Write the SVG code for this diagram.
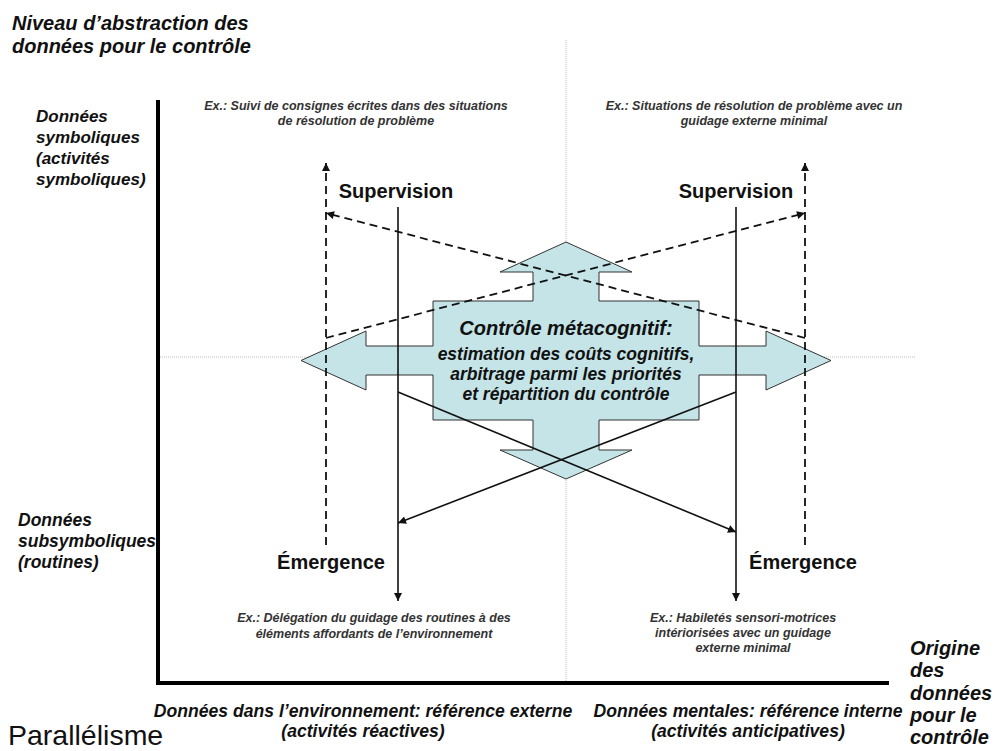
<svg xmlns="http://www.w3.org/2000/svg" width="997" height="751" viewBox="0 0 997 751">
<style>
  text { font-family: "Liberation Sans", Arial, sans-serif; }
  .bi { font-weight: bold; font-style: italic; fill: #111; }
  .ex { font-weight: bold; font-style: italic; fill: #333; font-size: 12.5px; text-anchor: middle; }
  .lbl { font-weight: bold; font-size: 20px; fill: #111; text-anchor: middle; }
  .dot { stroke: #bdbdbd; stroke-width: 1; stroke-dasharray: 1 1; fill: none; }
  .axis { stroke: #000; stroke-width: 4; fill: none; }
  .solid { stroke: #111; stroke-width: 1.6; fill: none; }
  .dash { stroke: #111; stroke-width: 1.8; stroke-dasharray: 8 5; fill: none; }
  .cross { fill: #c4e4e7; stroke: #333; stroke-width: 1; }
</style>
<defs>
  <marker id="arr" viewBox="0 0 10 10" refX="10" refY="5" markerUnits="userSpaceOnUse" markerWidth="9" markerHeight="8" orient="auto">
    <path d="M0,0 L10,5 L0,10 z" fill="#111"/>
  </marker>
</defs>

<g id="background-guides">
  <line class="dot" x1="566" y1="40" x2="566" y2="683"/>
  <line class="dot" x1="158" y1="357" x2="916" y2="357"/>
</g>

<g id="metacognitive-control">
  <polygon class="cross" points="566,242 632,272 599,272 599,301 699,301 699,346 766,346 766,331 831,360.5 766,390 766,375 699,375 699,420 599,420 599,450 632,450 566,479 500,450 533,450 533,420 433,420 433,375 366,375 366,390 301,360.5 366,331 366,346 433,346 433,301 533,301 533,272 500,272"/>
</g>

<g id="axes">
  <line class="axis" x1="158" y1="100" x2="158" y2="685"/>
  <line class="axis" x1="156" y1="683" x2="889" y2="683"/>
</g>

<g id="connectors">
  <line class="dash" x1="326" y1="545" x2="326" y2="163" marker-end="url(#arr)"/>
  <line class="dash" x1="805" y1="545" x2="805" y2="163" marker-end="url(#arr)"/>
  <line class="dash" x1="805" y1="338" x2="326" y2="213" marker-end="url(#arr)"/>
  <line class="dash" x1="326" y1="338" x2="805" y2="213" marker-end="url(#arr)"/>
  <line class="solid" x1="398" y1="207" x2="398" y2="601" marker-end="url(#arr)"/>
  <line class="solid" x1="736" y1="207" x2="736" y2="601" marker-end="url(#arr)"/>
  <line class="solid" x1="398" y1="392" x2="736" y2="532" marker-end="url(#arr)"/>
  <line class="solid" x1="736" y1="392" x2="398" y2="523" marker-end="url(#arr)"/>
</g>

<g id="control-text">
  <text class="bi" x="566" y="335" font-size="20" text-anchor="middle">Contrôle métacognitif:</text>
  <text class="bi" x="566" y="360" font-size="17.5" text-anchor="middle">estimation des coûts cognitifs,</text>
  <text class="bi" x="566" y="380" font-size="17.5" text-anchor="middle">arbitrage parmi les priorités</text>
  <text class="bi" x="566" y="400" font-size="17.5" text-anchor="middle">et répartition du contrôle</text>
</g>

<g id="y-axis-title">
  <text class="bi" x="12" y="30" font-size="20">Niveau d’abstraction des</text>
  <text class="bi" x="12" y="53" font-size="20">données pour le contrôle</text>
</g>

<g id="y-symbolic">
  <text class="bi" x="36" y="122" font-size="17">Données</text>
  <text class="bi" x="36" y="143" font-size="17">symboliques</text>
  <text class="bi" x="36" y="164" font-size="17">(activités</text>
  <text class="bi" x="36" y="185" font-size="17">symboliques)</text>
</g>

<g id="y-subsymbolic">
  <text class="bi" x="18" y="526" font-size="17.5">Données</text>
  <text class="bi" x="18" y="547" font-size="17.5">subsymboliques</text>
  <text class="bi" x="18" y="568" font-size="17.5">(routines)</text>
</g>

<g id="ex-top-left">
  <text class="ex" x="356" y="110">Ex.: Suivi de consignes écrites dans des situations</text>
  <text class="ex" x="356" y="125">de résolution de problème</text>
</g>
<g id="ex-top-right">
  <text class="ex" x="754" y="110">Ex.: Situations de résolution de problème avec un</text>
  <text class="ex" x="754" y="125">guidage externe minimal</text>
</g>
<g id="ex-bottom-left">
  <text class="ex" x="374" y="622">Ex.: Délégation du guidage des routines à des</text>
  <text class="ex" x="374" y="638">éléments affordants de l’environnement</text>
</g>
<g id="ex-bottom-right">
  <text class="ex" x="743" y="622">Ex.: Habiletés sensori-motrices</text>
  <text class="ex" x="743" y="637">intériorisées avec un guidage</text>
  <text class="ex" x="743" y="652">externe minimal</text>
</g>

<g id="supervision-left"><text class="lbl" x="396" y="198">Supervision</text></g>
<g id="supervision-right"><text class="lbl" x="736" y="198">Supervision</text></g>
<g id="emergence-left"><text class="lbl" x="331" y="569">Émergence</text></g>
<g id="emergence-right"><text class="lbl" x="803" y="569">Émergence</text></g>

<g id="x-external">
  <text class="bi" x="363" y="717" font-size="17.6" text-anchor="middle">Données dans l’environnement: référence externe</text>
  <text class="bi" x="363" y="737" font-size="17.6" text-anchor="middle">(activités réactives)</text>
</g>
<g id="x-internal">
  <text class="bi" x="748" y="717" font-size="17.6" text-anchor="middle">Données mentales: référence interne</text>
  <text class="bi" x="748" y="737" font-size="17.6" text-anchor="middle">(activités anticipatives)</text>
</g>

<g id="x-axis-title">
  <text class="bi" x="910" y="655" font-size="20">Origine</text>
  <text class="bi" x="910" y="677" font-size="20">des</text>
  <text class="bi" x="910" y="700" font-size="20">données</text>
  <text class="bi" x="910" y="722" font-size="20">pour le</text>
  <text class="bi" x="910" y="744" font-size="20">contrôle</text>
</g>

<g id="slide-title">
  <text x="8" y="745" font-size="28.5" fill="#111">Parallélisme</text>
</g>
</svg>
